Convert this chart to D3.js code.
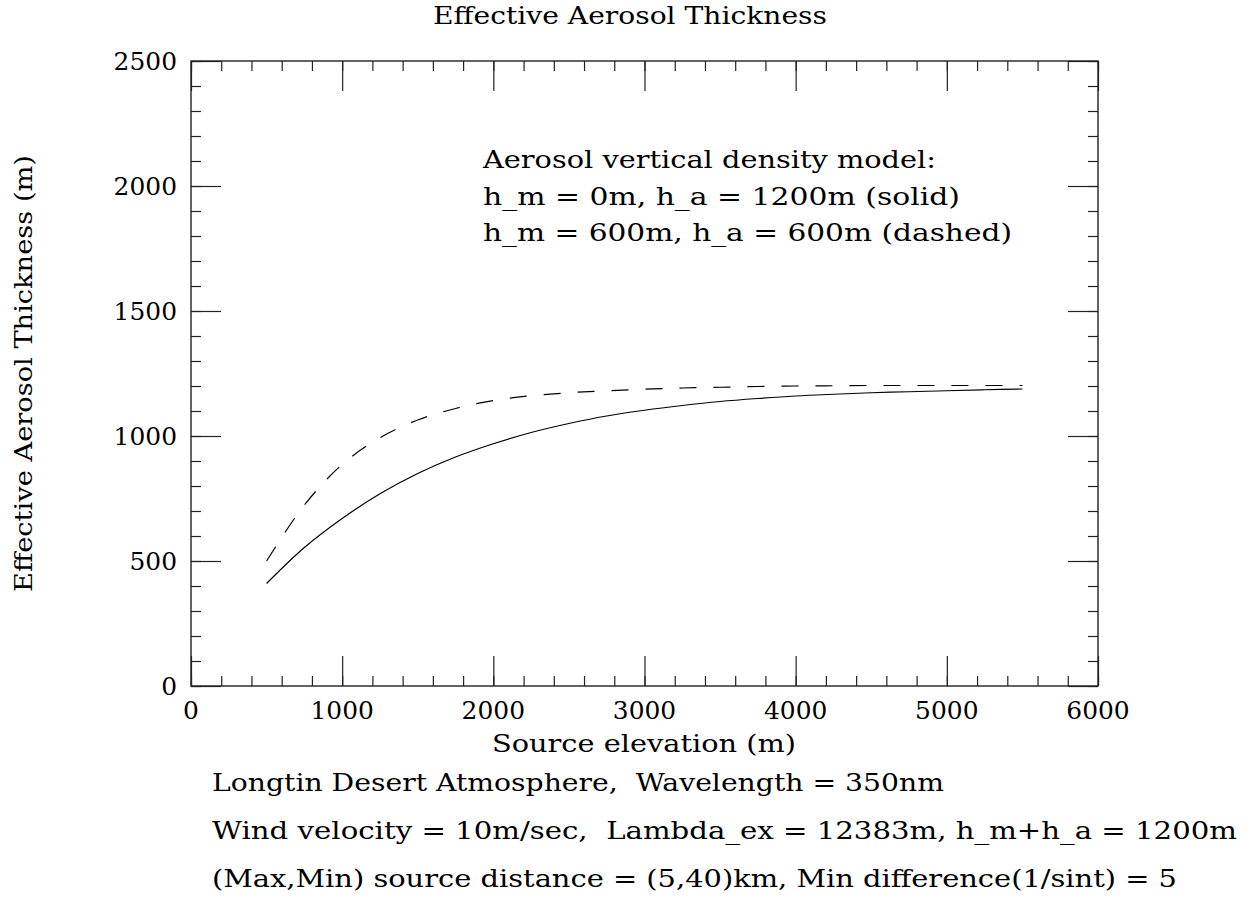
<!DOCTYPE html>
<html>
<head>
<meta charset="utf-8">
<script src="https://cdn.jsdelivr.net/npm/d3@7"></script>
<style>
body { margin: 0; background: #fff; }
text { font-family: "DejaVu Serif", serif; font-size: 23.5px; fill: #000; }
</style>
</head>
<body>
<script>
// source elevation (m)
var elevation = [500, 750, 1000, 1250, 1500, 1750, 2000, 2250, 2500, 2750, 3000,
                 3250, 3500, 3750, 4000, 4250, 4500, 4750, 5000, 5250, 5500];
// h_m = 0m, h_a = 1200m (solid)
var solidVals = [410, 554, 670, 769, 850, 916, 969, 1014, 1050, 1080, 1103,
                 1122, 1138, 1150, 1160, 1167, 1173, 1177, 1181, 1185, 1188];
// h_m = 600m, h_a = 600m (dashed)
var dashedVals = [500, 724, 886, 993, 1064, 1110, 1142, 1161, 1173, 1181, 1187,
                  1192, 1195, 1198, 1200, 1201, 1202, 1202, 1202, 1202, 1202];

var xMajor = [0, 1000, 2000, 3000, 4000, 5000, 6000];
var yMajor = [0, 500, 1000, 1500, 2000, 2500];
var xMinor = d3.range(0, 6001, 200);
var yMinor = d3.range(0, 2501, 100);

var legendLines = ['Aerosol vertical density model:',
                   'h_m = 0m, h_a = 1200m (solid)',
                   'h_m = 600m, h_a = 600m (dashed)'];
var noteLines = ['Longtin Desert Atmosphere,\u00a0 Wavelength = 350nm',
                 'Wind velocity = 10m/sec,\u00a0 Lambda_ex = 12383m, h_m+h_a = 1200m',
                 '(Max,Min) source distance = (5,40)km, Min difference(1/sint) = 5'];

// the original lettering is wider than DejaVu, so each line is stretched to its width
var legendWidths = [453, 477, 529];
var noteWidths = [732, 1025, 965];

var W = 1259, H = 898;
var L = 191, R = 1098, T = 61, B = 686;

var svg = d3.select('body').append('svg').attr('width', W).attr('height', H);

var x = d3.scaleLinear().domain([0, 6000]).range([L, R]);
var y = d3.scaleLinear().domain([0, 2500]).range([B, T]);

function stretch(sel, w) {
    sel.attr('lengthAdjust', 'spacingAndGlyphs').attr('textLength', w);
}

// frame ticks, all pointing inward
function tickAxis(axisFn, scale, vals, size, tx, ty) {
    var g = svg.append('g').attr('transform', 'translate(' + tx + ',' + ty + ')')
        .call(axisFn(scale).tickValues(vals).tickSize(size).tickFormat(''));
    g.select('.domain').remove();
    g.selectAll('line').attr('stroke', '#222').attr('stroke-width', 1.2);
    return g;
}
tickAxis(d3.axisBottom, x, xMinor, -10, 0, B);
tickAxis(d3.axisBottom, x, xMajor, -30, 0, B);
tickAxis(d3.axisTop, x, xMinor, -10, 0, T);
tickAxis(d3.axisTop, x, xMajor, -30, 0, T);
tickAxis(d3.axisLeft, y, yMinor, -10, L, 0);
tickAxis(d3.axisLeft, y, yMajor, -30, L, 0);
tickAxis(d3.axisRight, y, yMinor, -10, R, 0);
tickAxis(d3.axisRight, y, yMajor, -30, R, 0);

svg.append('rect')
    .attr('x', L).attr('y', T).attr('width', R - L).attr('height', B - T)
    .attr('fill', 'none').attr('stroke', '#222').attr('stroke-width', 1.4);

// tick labels
svg.selectAll('text.xlab')
    .data(xMajor)
    .enter().append('text')
        .attr('class', 'xlab')
        .attr('x', function(d){ return x(d); })
        .attr('y', 719)
        .attr('text-anchor', 'middle')
        .text(function(d){ return d; })
        .each(function(){ stretch(d3.select(this), this.getComputedTextLength() * 1.06); });

svg.selectAll('text.ylab')
    .data(yMajor)
    .enter().append('text')
        .attr('class', 'ylab')
        .attr('x', 177)
        .attr('y', function(d){ return y(d) + 9; })
        .attr('text-anchor', 'end')
        .text(function(d){ return d; })
        .each(function(){ stretch(d3.select(this), this.getComputedTextLength() * 1.06); });

// curves
var line = d3.line()
    .x(function(d){ return x(d[0]); })
    .y(function(d){ return y(d[1]); })
    .curve(d3.curveCatmullRom.alpha(0.5));

svg.append('path')
    .datum(d3.zip(elevation, solidVals))
    .attr('d', line)
    .attr('fill', 'none').attr('stroke', '#000').attr('stroke-width', 1.2);

svg.append('path')
    .datum(d3.zip(elevation, dashedVals))
    .attr('d', line)
    .attr('fill', 'none').attr('stroke', '#000').attr('stroke-width', 1.2)
    .attr('stroke-dasharray', '17,17');

// titles
svg.append('text')
    .attr('x', 630).attr('y', 24)
    .attr('text-anchor', 'middle')
    .text('Effective Aerosol Thickness')
    .call(stretch, 394);

svg.append('text')
    .attr('x', 644).attr('y', 752)
    .attr('text-anchor', 'middle')
    .text('Source elevation (m)')
    .call(stretch, 304);

svg.append('text')
    .attr('transform', 'translate(32,' + ((T + B) / 2) + ') rotate(-90)')
    .attr('text-anchor', 'middle')
    .text('Effective Aerosol Thickness (m)')
    .call(stretch, 437);

// legend text
svg.selectAll('text.leg')
    .data(legendLines)
    .enter().append('text')
        .attr('class', 'leg')
        .attr('x', 483)
        .attr('y', function(d, i){ return 168 + i * 36.5; })
        .attr('lengthAdjust', 'spacingAndGlyphs')
        .attr('textLength', function(d, i){ return legendWidths[i]; })
        .text(function(d){ return d; });

// notes under the plot
svg.selectAll('text.note')
    .data(noteLines)
    .enter().append('text')
        .attr('class', 'note')
        .attr('x', 212)
        .attr('y', function(d, i){ return 791 + i * 48; })
        .attr('lengthAdjust', 'spacingAndGlyphs')
        .attr('textLength', function(d, i){ return noteWidths[i]; })
        .text(function(d){ return d; });
</script>
</body>
</html>
